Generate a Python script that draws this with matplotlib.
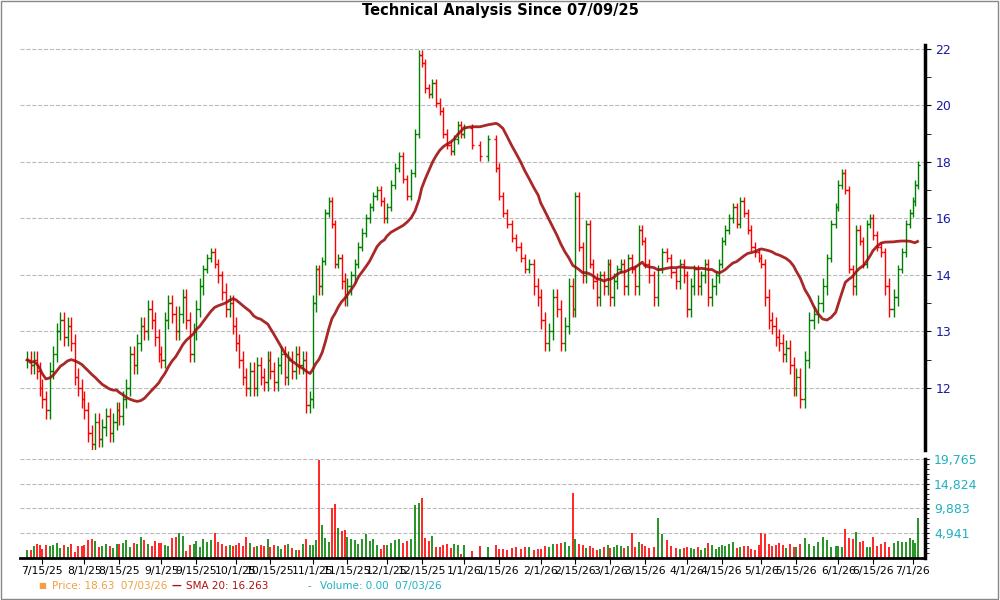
import numpy as np
import pandas as pd
import matplotlib
matplotlib.use("Agg")
import matplotlib.pyplot as plt
from matplotlib.scale import FuncScale

# half-month segments: (start, end, closes, volumes)
seg_starts = ["2025-07-09", "2025-07-15", "2025-08-01", "2025-08-15", "2025-09-01", "2025-09-15",
              "2025-10-01", "2025-10-15", "2025-11-01", "2025-11-15", "2025-12-01", "2025-12-15",
              "2026-01-01", "2026-01-15", "2026-02-01", "2026-02-15", "2026-03-01", "2026-03-15",
              "2026-04-01", "2026-04-15", "2026-05-01", "2026-05-15", "2026-06-01", "2026-06-15",
              "2026-07-01"]
seg_ends = seg_starts[1:] + ["2026-07-03"]

closes = [
    [12.5, 12.4, 12.5, 12.3, 12.0],
    [11.8, 11.6, 12.3, 12.6, 13.0, 13.2, 12.9, 13.1, 12.8, 12.2, 12.0, 11.8],
    [11.6, 11.2, 11.0, 11.4, 11.1, 11.3, 11.5, 11.2, 11.4, 11.6],
    [11.5, 11.8, 12.0, 12.6, 12.4, 12.8, 13.1, 13.0, 13.4, 13.2, 12.9, 12.6],
    [12.5, 13.2, 13.5, 13.3, 13.0, 13.3, 13.6, 13.2, 12.6, 13.0],
    [13.4, 13.8, 14.2, 14.6, 14.8, 14.4, 14.0, 13.7, 13.4, 13.5, 13.1],
    [12.8, 12.5, 12.2, 12.0, 12.3, 12.0, 12.4, 12.2, 12.1, 12.5],
    [12.3, 12.1, 12.4, 12.6, 12.2, 12.5, 12.3, 12.6, 12.4, 12.5, 11.7, 11.8],
    [13.5, 14.2, 13.8, 14.5, 16.2, 16.6, 15.8, 14.4, 14.6, 13.9, 13.6],
    [13.8, 14.0, 14.4, 15.0, 15.5, 16.0, 16.4, 16.8, 17.0, 16.6, 16.0],
    [16.4, 17.2, 17.8, 18.2, 17.4, 16.8, 17.6, 19.0, 21.8],
    [21.5, 20.6, 20.4, 20.8, 20.1, 19.8, 19.0, 18.6, 18.4, 18.8, 19.3, 19.0],
    [19.2, 18.6, 18.2, 18.8, 17.8],
    [16.8, 16.2, 15.8, 15.3, 15.0, 14.6, 14.2, 14.4, 13.8, 13.6],
    [13.2, 12.8, 13.0, 13.6, 13.4, 12.8, 13.1, 13.8, 13.4],
    [16.8, 15.0, 14.0, 15.8, 14.4, 13.9, 13.6, 14.0, 13.8, 14.4],
    [13.6, 13.9, 14.2, 14.4, 13.8, 14.6, 14.2, 13.8, 15.6, 15.2],
    [14.4, 14.0, 13.6, 14.2, 14.8, 14.6, 14.1, 13.9, 14.4, 14.0],
    [13.4, 13.8, 14.2, 13.8, 14.0, 14.4, 13.6, 13.8, 14.0, 14.4],
    [15.2, 15.6, 16.0, 16.4, 15.8, 16.6, 16.2, 15.6, 15.0, 14.8, 14.6],
    [14.4, 13.6, 13.2, 13.1, 12.9, 12.8, 12.6, 12.7, 12.4, 12.0],
    [12.2, 11.8, 12.5, 13.2, 13.3, 13.5, 13.8, 14.6, 15.8, 16.4],
    [17.2, 17.6, 17.0, 14.2, 13.8, 15.6, 15.2, 14.4, 15.8, 16.0],
    [15.4, 15.0, 14.8, 13.8, 13.4, 13.6, 14.2, 14.8, 15.8, 16.2],
    [16.6, 17.2, 17.9],
]

volumes = [
    [1500, 1500, 2300, 2700, 2600],
    [1800, 2500, 2300, 2500, 2900, 2000, 2600, 2200, 2700, 1200, 2300, 2400],
    [2500, 3500, 3800, 3400, 2100, 2300, 2700, 2400, 2000, 2700],
    [2800, 2900, 3600, 2200, 2900, 2700, 4100, 3600, 2800, 2300, 3300, 3000],
    [2900, 2600, 2300, 3900, 4100, 5000, 4300, 1300, 2500, 2700],
    [3300, 2200, 3800, 3200, 3500, 4900, 3200, 2800, 2300, 2600, 2400],
    [2600, 2900, 2300, 4200, 3000, 2100, 2300, 2600, 2300, 3800],
    [2100, 2600, 2300, 1700, 2500, 2700, 1900, 1500, 1500, 2800, 3700, 2500],
    [2500, 3500, 19500, 6500, 4000, 3200, 10000, 10800, 6000, 5400, 5500],
    [4200, 3800, 3500, 2700, 3700, 4700, 3400, 3700, 2500, 1800, 2600],
    [2500, 3000, 3500, 3800, 3000, 3300, 3700, 10500, 11000],
    [12000, 3900, 3400, 4300, 2200, 2100, 2600, 2800, 1900, 2700, 2600, 800],
    [2600, 1400, 2400, 2200, 2600],
    [1700, 1800, 1600, 2000, 2200, 1800, 2100, 2200, 1600, 1700],
    [1800, 2300, 2200, 2700, 2700, 2900, 3100, 2400, 13000],
    [3700, 2800, 2600, 1900, 2300, 1900, 1600, 1700, 2200, 2600],
    [1900, 2200, 2500, 2400, 2000, 2300, 5000, 2200, 3100, 2800],
    [2400, 2000, 2200, 8000, 4800, 3600, 2400, 2000, 1700, 2000],
    [2200, 2000, 1800, 2200, 1600, 1900, 2900, 2600, 1700, 2200],
    [2500, 2300, 2700, 3100, 2000, 2100, 2400, 2300, 1700, 1500, 2600],
    [5000, 4800, 2800, 2400, 2500, 3000, 2500, 2000, 2700, 2200],
    [2100, 2700, 3900, 2700, 2300, 3200, 4100, 3600, 2200, 2300],
    [2300, 2100, 5800, 4000, 3700, 5100, 3200, 3300, 2200, 2100],
    [4100, 2400, 2700, 3100, 2100, 2900, 3400, 3200, 3100, 4000],
    [3500, 3000, 8000],
]

# spread each segment's bars evenly between its start and end date
dates, close, vol = [], [], []
for s, e, c, v in zip(seg_starts, seg_ends, closes, volumes):
    s, e = pd.Timestamp(s), pd.Timestamp(e)
    n = len(c)
    last = e if e == pd.Timestamp("2026-07-03") else e - pd.Timedelta(days=1)
    dates += list(pd.to_datetime(np.linspace(s.value, last.value, n)))
    close += c
    vol += v[:n] + [v[-1]] * (n - len(v))

df = pd.DataFrame({"date": dates, "close": close, "vol": vol})
df["open"] = df["close"].shift(1).fillna(df["close"].iloc[0])
df["high"] = df[["open", "close"]].max(axis=1) + 0.15
df["low"] = df[["open", "close"]].min(axis=1) - 0.15
df["sma"] = df["close"].rolling(20, min_periods=1).mean()
up = df["close"] >= df["open"]
colors = np.where(up, "#008000", "#ff0000")

# piecewise price scale as drawn in the reference
knots = [10, 11, 12, 13, 14, 16, 18, 20, 22, 24]
pos = [-2, -1, 0, 1, 2, 3, 4, 5, 6, 7]
fwd = lambda y: np.interp(y, knots, pos)
inv = lambda p: np.interp(p, pos, knots)

fig = plt.figure(figsize=(10, 6), dpi=100)
fig.patches.append(plt.Rectangle((0.001, 0.002), 0.997, 0.996, transform=fig.transFigure,
                                 fill=False, edgecolor="#888888", lw=1))
ax = fig.add_axes([0.02, 0.25, 0.905, 0.675])
axv = fig.add_axes([0.02, 0.07, 0.905, 0.165], sharex=ax)

ax.set_yscale(FuncScale(ax, (fwd, inv)))
ax.set_ylim(10.9, 22.14)
ax.vlines(df["date"], df["low"], df["high"], colors=colors, lw=1.0)
tick = pd.Timedelta(days=0.9)
ax.hlines(df["close"], df["date"], df["date"] + tick, colors=colors, lw=1.0)
ax.hlines(df["open"], df["date"] - tick, df["date"], colors=colors, lw=1.0)
ax.plot(df["date"], df["sma"], color="#a01010", lw=2, alpha=0.9)

ax.set_xlim(pd.Timestamp("2025-07-06"), pd.Timestamp("2026-07-06"))
ax.set_yticks([12, 13, 14, 16, 18, 20, 22])
ax.set_yticks([12.5, 13.5, 15, 17, 19, 21], minor=True)
ax.yaxis.tick_right()
ax.tick_params(axis="y", which="both", colors="black", labelcolor="#1a1aa6", labelsize=9, length=4)
ax.grid(axis="y", color="#bbbbbb", ls="--", lw=0.8)
ax.tick_params(axis="x", bottom=False, labelbottom=False)
for sp in ["top", "left", "bottom"]:
    ax.spines[sp].set_visible(False)
ax.spines["right"].set_linewidth(2.5)

axv.vlines(df["date"], 0, df["vol"], colors=colors, lw=1.2)
vt = [4941, 9883, 14824, 19765]
axv.set_ylim(0, 19765)
axv.set_yticks(vt)
axv.set_yticklabels(["4,941", "9,883", "14,824", "19,765"])
axv.set_yticks(np.arange(988, 19765, 988), minor=True)
axv.yaxis.tick_right()
axv.tick_params(axis="y", which="both", labelcolor="#20b0c0", labelsize=9, length=3)
axv.grid(axis="y", color="#bbbbbb", ls="--", lw=0.8)
for sp in ["top", "left"]:
    axv.spines[sp].set_visible(False)
axv.spines["right"].set_linewidth(2.5)
axv.spines["bottom"].set_linewidth(2)

xt = pd.to_datetime(["2025-07-15", "2025-08-01", "2025-08-15", "2025-09-01", "2025-09-15", "2025-10-01",
                     "2025-10-15", "2025-11-01", "2025-11-15", "2025-12-01", "2025-12-15", "2026-01-01",
                     "2026-01-15", "2026-02-01", "2026-02-15", "2026-03-01", "2026-03-15", "2026-04-01",
                     "2026-04-15", "2026-05-01", "2026-05-15", "2026-06-01", "2026-06-15", "2026-07-01"])
axv.set_xticks(xt)
axv.set_xticklabels([f"{d.month}/{d.day}/{d.year % 100}" for d in xt], fontsize=7.8)
axv.tick_params(axis="x", length=4, pad=2)

fig.suptitle("Technical Analysis Since 07/09/25", y=0.995, fontsize=10.5, fontweight="bold")
fig.text(0.038, 0.024, "■", color="#f0a040", fontsize=6, va="center")
fig.text(0.052, 0.024, "Price: 18.63  07/03/26", color="#f0a040", fontsize=7.5, va="center")
fig.text(0.172, 0.024, "—", color="#b01010", fontsize=7, va="center", fontweight="bold")
fig.text(0.186, 0.024, "SMA 20: 16.263", color="#b01010", fontsize=7.5, va="center")
fig.text(0.308, 0.024, "-", color="#20b0c0", fontsize=7.5, va="center")
fig.text(0.32, 0.024, "Volume: 0.00  07/03/26", color="#20b0c0", fontsize=7.5, va="center")

fig.savefig("out.png", dpi=100)
